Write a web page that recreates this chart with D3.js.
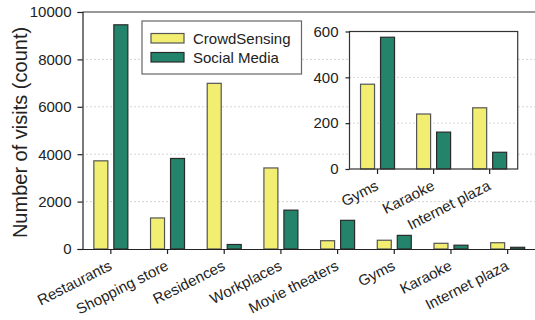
<!DOCTYPE html>
<html>
<head>
<meta charset="utf-8">
<script src="https://cdn.jsdelivr.net/npm/d3@7"></script>
<style>
  html, body { margin: 0; padding: 0; background: #fff; }
  svg { display: block; font-family: "Liberation Sans", Arial, sans-serif; }
</style>
</head>
<body>
<svg id="chart" width="535" height="320"></svg>
<script>
// Visit counts per venue category
const categories = ["Restaurants", "Shopping store", "Residences", "Workplaces",
                    "Movie theaters", "Gyms", "Karaoke", "Internet plaza"];
const crowdSensing = [3720, 1310, 6990, 3420, 350, 370, 240, 265];
const socialMedia  = [9460, 3820, 190, 1640, 1210, 575, 160, 72];
const seriesNames = ["CrowdSensing", "Social Media"];
const yTicks = [0, 2000, 4000, 6000, 8000, 10000];

// Zoomed detail for the last three categories
const insetCategories = ["Gyms", "Karaoke", "Internet plaza"];
const insetCrowdSensing = [370, 240, 267];
const insetSocialMedia = [575, 161, 73];
const insetTicks = [0, 200, 400, 600];

const colors = ["#f2ee72", "#23836b"];
const strokes = ["#555", "#2a2a2a"];

const svg = d3.select("#chart");

function barGroup(g, cats, valsA, valsB, x, y) {
  const rows = cats.map((c, i) => ({ c, v: [valsA[i], valsB[i]] }));
  rows.forEach(r => {
    r.v.forEach((v, k) => {
      const cx = x(r.c) + x.bandwidth() / 2 + (k === 0 ? -10 : 10);
      g.append("rect")
        .attr("x", cx - 7)
        .attr("y", y(v))
        .attr("width", 14)
        .attr("height", y(0) - y(v))
        .attr("fill", colors[k])
        .attr("stroke", strokes[k])
        .attr("stroke-width", 1.2);
    });
  });
}

// ---- main chart ----
const mLeft = 82.5, mRight = 536, mTop = 12, mBottom = 249;
const x = d3.scaleBand().domain(categories).range([mLeft, mRight]).padding(0);
const y = d3.scaleLinear().domain([0, 10000]).range([mBottom, mTop]);

// dotted gridlines
svg.append("g").selectAll("line")
  .data(yTicks.filter(t => t > 0 && t < 10000))
  .join("line")
  .attr("x1", mLeft).attr("x2", 535)
  .attr("y1", d => y(d)).attr("y2", d => y(d))
  .attr("stroke", "#aaa").attr("stroke-width", 1)
  .attr("stroke-dasharray", "1,3");

const main = svg.append("g");
barGroup(main, categories, crowdSensing, socialMedia, x, y);

// frame: top edge
svg.append("line").attr("x1", mLeft).attr("x2", 535)
  .attr("y1", y(10000)).attr("y2", y(10000))
  .attr("stroke", "#333").attr("stroke-width", 1.2);

// y axis
const yAxis = svg.append("g")
  .attr("transform", `translate(${mLeft},0)`)
  .call(d3.axisLeft(y).tickValues(yTicks).tickSize(5).tickPadding(6).tickFormat(d3.format("d")));
yAxis.select(".domain").attr("stroke", "#222").attr("stroke-width", 1.2);
yAxis.selectAll(".tick line").attr("stroke", "#222").attr("stroke-width", 1.2);
yAxis.selectAll("text").attr("font-size", 15).attr("fill", "#222")
  .attr("font-family", "Liberation Sans, Arial, sans-serif");

// x axis
const xAxis = svg.append("g")
  .attr("transform", `translate(0,${mBottom})`)
  .call(d3.axisBottom(x).tickSize(5).tickSizeOuter(0));
xAxis.select(".domain").attr("stroke", "#222").attr("stroke-width", 1.2)
  .attr("d", `M${mLeft},0.5H535`);
xAxis.selectAll(".tick line").attr("stroke", "#222").attr("stroke-width", 1.2);
xAxis.selectAll("text")
  .attr("font-size", 15).attr("fill", "#222")
  .attr("font-family", "Liberation Sans, Arial, sans-serif")
  .attr("text-anchor", "end")
  .attr("y", 0).attr("dy", 0)
  .attr("transform", "translate(2,20) rotate(-27)");

// y axis title
svg.append("text")
  .attr("transform", `translate(27,${(mTop + mBottom) / 2 + 2}) rotate(-90)`)
  .attr("text-anchor", "middle")
  .attr("font-size", 20).attr("fill", "#222")
  .text("Number of visits (count)");

// ---- legend ----
const lg = svg.append("g");
lg.append("rect").attr("x", 142).attr("y", 21).attr("width", 159.5).attr("height", 53)
  .attr("fill", "#fff").attr("stroke", "#666").attr("stroke-width", 1.2);
seriesNames.forEach((n, k) => {
  const yy = 33.5 + k * 19;
  lg.append("rect").attr("x", 151).attr("y", yy).attr("width", 33).attr("height", 9.5)
    .attr("fill", colors[k]).attr("stroke", strokes[k]).attr("stroke-width", 1.2);
  lg.append("text").attr("x", 193).attr("y", yy + 10).attr("font-size", 15)
    .attr("fill", "#222").text(n);
});

// ---- inset ----
const iL = 349.5, iR = 517.7, iT = 31.5, iB = 169;
const ix = d3.scaleBand().domain(insetCategories).range([iL, iR]).padding(0);
const iy = d3.scaleLinear().domain([0, 600]).range([iB, iT]);

svg.append("rect").attr("x", iL).attr("y", iT).attr("width", iR - iL).attr("height", iB - iT)
  .attr("fill", "#fff");

svg.append("g").selectAll("line")
  .data(insetTicks.filter(t => t > 0 && t < 600))
  .join("line")
  .attr("x1", iL).attr("x2", iR)
  .attr("y1", d => iy(d)).attr("y2", d => iy(d))
  .attr("stroke", "#aaa").attr("stroke-width", 1)
  .attr("stroke-dasharray", "1,3");

const inset = svg.append("g");
barGroup(inset, insetCategories, insetCrowdSensing, insetSocialMedia, ix, iy);

svg.append("rect").attr("x", iL).attr("y", iT).attr("width", iR - iL).attr("height", iB - iT)
  .attr("fill", "none").attr("stroke", "#333").attr("stroke-width", 1.2);

const iyAxis = svg.append("g")
  .attr("transform", `translate(${iL},0)`)
  .call(d3.axisLeft(iy).tickValues(insetTicks).tickSize(4).tickPadding(7).tickSizeOuter(0));
iyAxis.select(".domain").remove();
iyAxis.selectAll(".tick line").attr("stroke", "#222").attr("stroke-width", 1.2);
iyAxis.selectAll("text").attr("font-size", 15).attr("fill", "#222")
  .attr("font-family", "Liberation Sans, Arial, sans-serif");

const ixAxis = svg.append("g")
  .attr("transform", `translate(0,${iB})`)
  .call(d3.axisBottom(ix).tickSize(5).tickSizeOuter(0));
ixAxis.select(".domain").remove();
ixAxis.selectAll(".tick line").attr("stroke", "#222").attr("stroke-width", 1.2);
ixAxis.selectAll("text")
  .attr("font-size", 15).attr("fill", "#222")
  .attr("font-family", "Liberation Sans, Arial, sans-serif")
  .attr("text-anchor", "end")
  .attr("y", 0).attr("dy", 0)
  .attr("transform", "translate(2,20) rotate(-27)");
</script>
</body>
</html>
